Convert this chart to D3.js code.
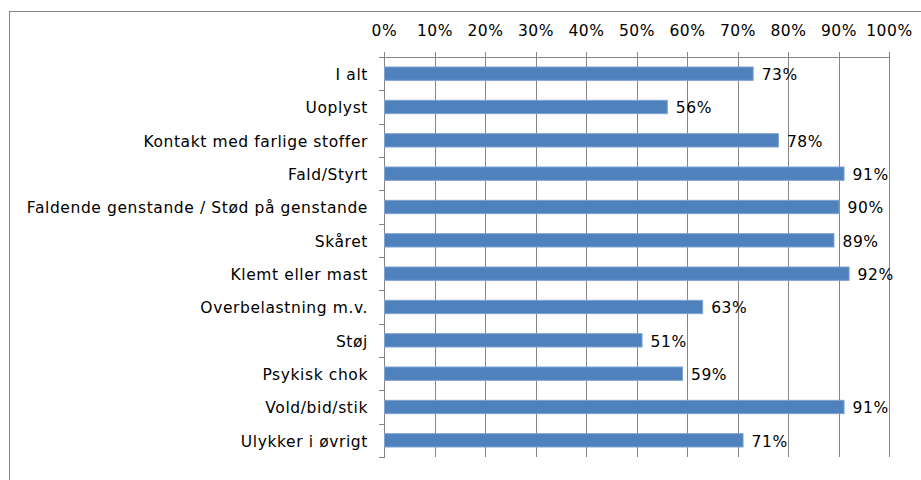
<!DOCTYPE html>
<html>
<head>
<meta charset="utf-8">
<script src="https://cdn.jsdelivr.net/npm/d3@7"></script>
<style>
  body { margin: 0; background: #fff; }
  svg text { font-family: "DejaVu Sans", Verdana, sans-serif; font-size: 15.5px; letter-spacing: 0.6px; fill: #000; }
</style>
</head>
<body>
<svg id="chart" width="921" height="480"></svg>
<script>
// categories, top to bottom
const categories = [
    'I alt',
    'Uoplyst',
    'Kontakt med farlige stoffer',
    'Fald/Styrt',
    'Faldende genstande / Stød på genstande',
    'Skåret',
    'Klemt eller mast',
    'Overbelastning m.v.',
    'Støj',
    'Psykisk chok',
    'Vold/bid/stik',
    'Ulykker i øvrigt'
];
// share in percent
const values = [73, 56, 78, 91, 90, 89, 92, 63, 51, 59, 91, 71];
const tickValues = [0, 10, 20, 30, 40, 50, 60, 70, 80, 90, 100];

const svg = d3.select('#chart');
const plot = {left: 384, right: 889, top: 57, bottom: 457};
const grey = '#868686';

// outer chart frame (only top and left edge visible in the crop)
svg.append('rect')
    .attr('x', 9.5).attr('y', 11.5)
    .attr('width', 940).attr('height', 500)
    .attr('fill', 'none')
    .attr('stroke', grey);

const x = d3.scaleLinear().domain([0, 100]).range([plot.left, plot.right]);
const y = d3.scaleBand().domain(categories).range([plot.top, plot.bottom]).paddingInner(0.6).paddingOuter(0.3);
const yBand = d3.scaleBand().domain(categories).range([plot.top, plot.bottom]);

// vertical gridlines (poke 5px above the plot as top-axis ticks)
svg.append('g')
    .selectAll('line')
    .data(tickValues)
    .join('line')
    .attr('x1', d => Math.round(x(d)) + 0.5)
    .attr('x2', d => Math.round(x(d)) + 0.5)
    .attr('y1', plot.top - 5)
    .attr('y2', plot.bottom)
    .attr('stroke', grey);

// top axis line
svg.append('line')
    .attr('x1', plot.left).attr('x2', Math.round(x(100)) + 1)
    .attr('y1', plot.top + 0.5).attr('y2', plot.top + 0.5)
    .attr('stroke', grey);

// top axis labels
const xAxis = d3.axisTop(x)
    .tickValues(tickValues)
    .tickFormat(d => d + '%')
    .tickSize(0)
    .tickPadding(0);
const gx = svg.append('g')
    .attr('transform', 'translate(0,36)')
    .call(xAxis);
gx.select('.domain').remove();
gx.selectAll('text')
    .attr('font-family', null)
    .attr('font-size', null)
    .attr('fill', null)
    .attr('dy', 0);
gx.attr('font-family', null).attr('font-size', null);

// left category axis with ticks between categories
const bounds = categories.map(c => yBand(c)).concat([plot.bottom]);
svg.append('line')
    .attr('x1', plot.left + 0.5).attr('x2', plot.left + 0.5)
    .attr('y1', plot.top).attr('y2', plot.bottom + 1)
    .attr('stroke', grey);
svg.append('g')
    .selectAll('line')
    .data(bounds)
    .join('line')
    .attr('x1', plot.left - 5)
    .attr('x2', plot.left)
    .attr('y1', d => Math.round(d) + 0.5)
    .attr('y2', d => Math.round(d) + 0.5)
    .attr('stroke', grey);

svg.append('g')
    .selectAll('text')
    .data(categories)
    .join('text')
    .attr('x', plot.left - 16)
    .attr('y', d => yBand(d) + yBand.bandwidth() / 2 + 1)
    .attr('dy', '0.35em')
    .attr('text-anchor', 'end')
    .text(d => d);

// bars
svg.append('g')
    .selectAll('rect')
    .data(values)
    .join('rect')
    .attr('x', x(0) + 0.5)
    .attr('y', (d, i) => y(categories[i]))
    .attr('width', d => x(d) - x(0))
    .attr('height', y.bandwidth())
    .attr('fill', '#4f81bd')
    .attr('stroke', '#7fa2d0')
    .attr('stroke-width', 1);

// value labels
svg.append('g')
    .selectAll('text')
    .data(values)
    .join('text')
    .attr('x', d => x(d) + 9)
    .attr('y', (d, i) => yBand(categories[i]) + yBand.bandwidth() / 2 + 1)
    .attr('dy', '0.35em')
    .text(d => d + '%');
</script>
</body>
</html>
